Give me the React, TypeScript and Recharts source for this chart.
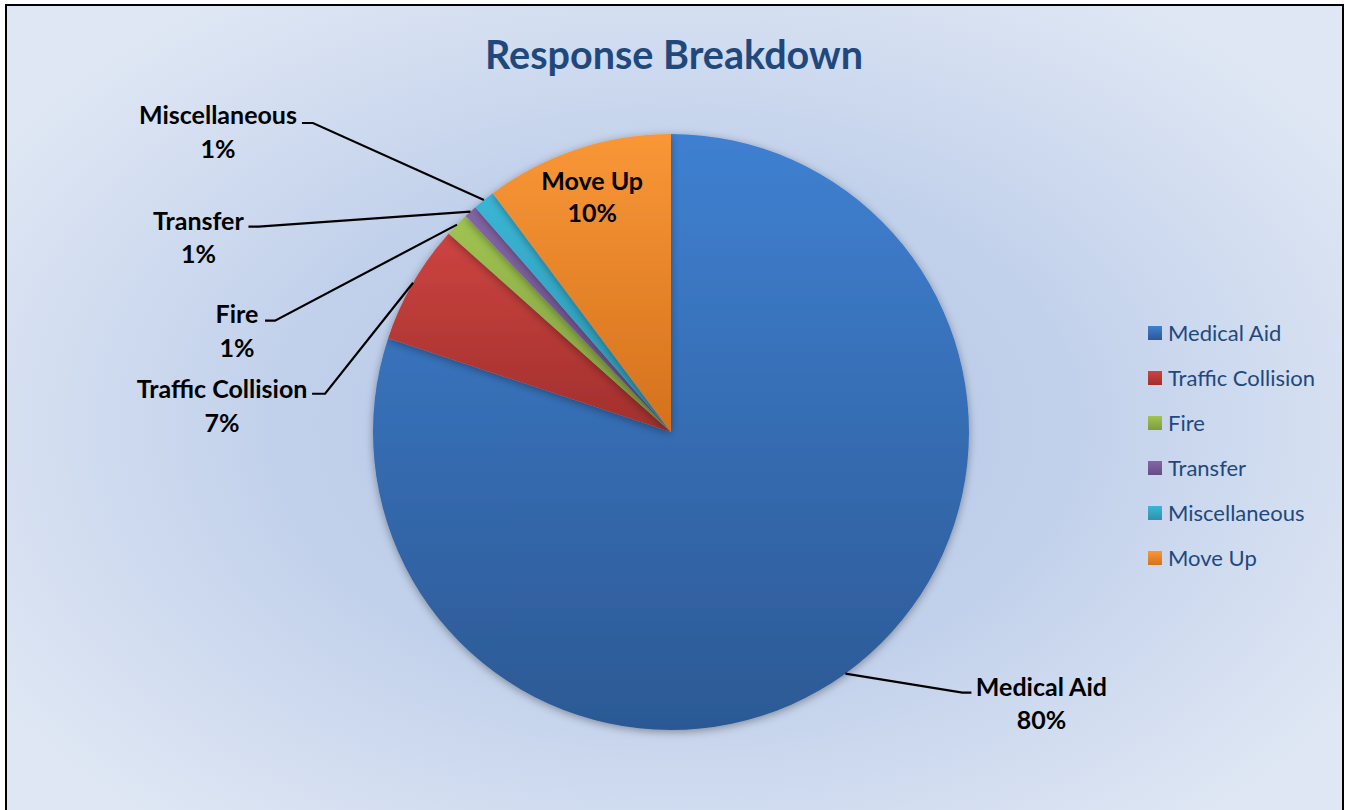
import React from 'react';
import { PieChart, Pie, Cell, Legend } from 'recharts';

const CATEGORIES = ['Medical Aid', 'Traffic Collision', 'Fire', 'Transfer', 'Miscellaneous', 'Move Up'];
const VALUES = [80.1, 6.5, 1.3, 0.7, 1.2, 10.2];
const COLOR_TOP = ['#3f80d1', '#cc4441', '#a0c452', '#8466a6', '#3bb6d6', '#f99737'];
const COLOR_BOTTOM = ['#2c5994', '#a12f2c', '#7f9c3e', '#664c86', '#2c92ad', '#d4711d'];

const data = CATEGORIES.map((name, i) => ({ name, value: VALUES[i] }));

// label layout: offsets relative to the slice's outer-arc anchor point
const LABEL_LAYOUT: ({ elbow: [number, number]; end: [number, number]; text: [number, number, number] } | null)[] = [
  { elbow: [117, 19], end: [126, 19], text: [196, 12, 45] },
  { elbow: [-88, 111], end: [-101, 111], text: [-191, 105, 139] },
  { elbow: [-182, 96], end: [-192, 96], text: [-220, 88, 122] },
  { elbow: [-212, 15], end: [-222, 15], text: [-272, 8, 41] },
  { elbow: [-171, -77], end: [-182, -77], text: [-266, -86, -52] },
  null,
];

const FONT = 'Lato, "Open Sans", sans-serif';
const RADIAN = Math.PI / 180;
const CX = 671;
const CY = 432;
const R = 298;
const LABEL_SIZE = 25;

const renderLabel = (props: any) => {
  const { cx, cy, midAngle, outerRadius, index, name, value } = props;
  const pct = `${Math.round(value)}%`;
  const layout = LABEL_LAYOUT[index];
  if (!layout) {
    const r = outerRadius * 0.84;
    const x = cx + r * Math.cos(-midAngle * RADIAN);
    const y = cy + r * Math.sin(-midAngle * RADIAN);
    return (
      <g>
        <text x={x} y={y - 14} textAnchor="middle" dominantBaseline="central" fill="#000" fontFamily={FONT} fontWeight={700} fontSize={LABEL_SIZE}>{name}</text>
        <text x={x} y={y + 18} textAnchor="middle" dominantBaseline="central" fill="#000" fontFamily={FONT} fontWeight={700} fontSize={LABEL_SIZE}>{pct}</text>
      </g>
    );
  }
  const ax = cx + outerRadius * Math.cos(-midAngle * RADIAN);
  const ay = cy + outerRadius * Math.sin(-midAngle * RADIAN);
  const pts = `${ax},${ay} ${ax + layout.elbow[0]},${ay + layout.elbow[1]} ${ax + layout.end[0]},${ay + layout.end[1]}`;
  const tx = ax + layout.text[0];
  return (
    <g>
      <polyline points={pts} fill="none" stroke="#000" strokeWidth={2.2} />
      <text x={tx} y={ay + layout.text[1]} textAnchor="middle" dominantBaseline="central" fill="#000" fontFamily={FONT} fontWeight={700} fontSize={LABEL_SIZE}>{name}</text>
      <text x={tx} y={ay + layout.text[2]} textAnchor="middle" dominantBaseline="central" fill="#000" fontFamily={FONT} fontWeight={700} fontSize={LABEL_SIZE}>{pct}</text>
    </g>
  );
};

const renderLegend = () => {
  return (
    <div style={{ fontFamily: FONT }}>
      {CATEGORIES.map((name, i) => (
        <div key={name} style={{ display: 'flex', alignItems: 'center', height: 45 }}>
          <div
            style={{
              width: 14,
              height: 14,
              marginRight: 6,
              background: `linear-gradient(${COLOR_TOP[i]}, ${COLOR_BOTTOM[i]})`,
            }}
          />
          <span style={{ color: '#1F497D', fontSize: 22 }}>{name}</span>
        </div>
      ))}
    </div>
  );
};

export default function App() {
  return (
    <div style={{ position: 'absolute', left: 0, top: 0, width: 1345, height: 810, overflow: 'hidden', background: '#fff' }}>
      <div
        style={{
          position: 'absolute',
          left: 5,
          top: 4,
          width: 1335,
          height: 840,
          border: '2px solid #000',
          background: 'radial-gradient(ellipse 60% 62% at 50% 50%, #b3c6e7 0%, #c2d1eb 50%, #dfe7f4 100%)',
        }}
      />
      <svg style={{ position: 'absolute', left: 0, top: 0 }} width={1345} height={120}>
        <text x={674} y={53} textAnchor="middle" dominantBaseline="central" fill="#1F497D" fontFamily={FONT} fontWeight={700} fontSize={39.5}>
          Response Breakdown
        </text>
      </svg>
      <div style={{ position: 'absolute', left: 0, top: 0 }}>
        <PieChart width={1345} height={810} margin={{ top: 0, right: 0, bottom: 0, left: 0 }}>
          <defs>
            {COLOR_TOP.map((c, i) => (
              <linearGradient key={i} id={`grad${i}`} x1="0" y1="0" x2="0" y2="1">
                <stop offset="0%" stopColor={c} />
                <stop offset="100%" stopColor={COLOR_BOTTOM[i]} />
              </linearGradient>
            ))}
            <filter id="pieShadow" x="-10%" y="-10%" width="120%" height="120%">
              <feDropShadow dx="0" dy="2" stdDeviation="4" floodColor="#000" floodOpacity="0.35" />
            </filter>
          </defs>
          <Pie
            data={data}
            dataKey="value"
            nameKey="name"
            cx={CX}
            cy={CY}
            outerRadius={R}
            startAngle={90}
            endAngle={-270}
            stroke="none"
            label={renderLabel}
            labelLine={false}
            isAnimationActive={false}
            style={{ filter: 'url(#pieShadow)' }}
          >
            {data.map((d, i) => (
              <Cell key={d.name} fill={`url(#grad${i})`} stroke="none" />
            ))}
          </Pie>
          <Legend
            layout="vertical"
            align="right"
            verticalAlign="top"
            content={renderLegend}
            wrapperStyle={{ position: 'absolute', left: 1148, top: 310, width: 200, right: 'auto' }}
          />
        </PieChart>
      </div>
    </div>
  );
}
